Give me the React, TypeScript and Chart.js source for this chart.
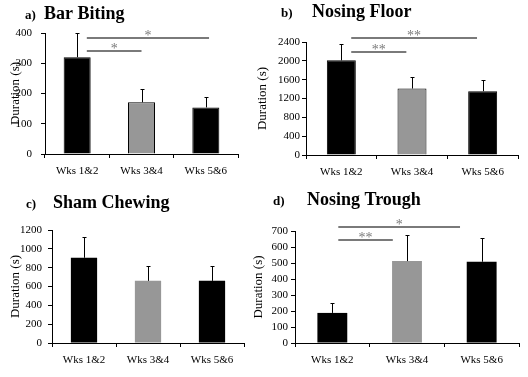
import React, { useEffect, useRef } from 'react';
import { Chart, registerables } from 'chart.js';
Chart.register(...registerables);

const categories = ['Wks 1&2', 'Wks 3&4', 'Wks 5&6'];

const barBiting = [320, 171, 154];
const barBitingErr = [80, 43, 36];
const barBitingTicks = { max: 400, step: 100 };
const barBitingSig = [
  { from: 0.15, to: 2.05, y: 383, label: '*' },
  { from: 0.15, to: 1.0, y: 340, label: '*' },
];

const nosingFloor = [2010, 1412, 1355];
const nosingFloorErr = [355, 235, 235];
const nosingFloorTicks = { max: 2400, step: 400 };
const nosingFloorSig = [
  { from: 0.14, to: 1.92, y: 2485, label: '**' },
  { from: 0.14, to: 0.92, y: 2188, label: '**' },
];

const shamChewing = [905, 660, 660];
const shamChewingErr = [220, 158, 158];
const shamChewingTicks = { max: 1200, step: 200 };
const shamChewingSig: { from: number; to: number; y: number; label: string }[] = [];

const nosingTrough = [188, 512, 508];
const nosingTroughErr = [62, 160, 150];
const nosingTroughTicks = { max: 700, step: 100 };
const nosingTroughSig = [
  { from: 0.08, to: 1.71, y: 725, label: '*' },
  { from: 0.08, to: 0.81, y: 644, label: '**' },
];

const barColors = ['#000000', '#979797', '#000000'];
const FONT = '"Liberation Serif", "Times New Roman", serif';
const W = 528;
const H = 377;

type Panel = {
  letter: string;
  title: string;
  values: number[];
  errors: number[];
  ticks: { max: number; step: number };
  sig: { from: number; to: number; y: number; label: string }[];
  area: { l: number; t: number; r: number; b: number };
  yTitleX: number;
  tickPad: number;
  barPct: number;
  border: number;
  letterX: number;
  titleX: number;
  titleY: number;
};

const panels: Panel[] = [
  {
    letter: 'a)', title: 'Bar Biting', values: barBiting, errors: barBitingErr, ticks: barBitingTicks, sig: barBitingSig,
    area: { l: 45, t: 33, r: 238, b: 154 }, yTitleX: 15, tickPad: 9, barPct: 0.42, border: 1,
    letterX: 25, titleX: 44, titleY: 19,
  },
  {
    letter: 'b)', title: 'Nosing Floor', values: nosingFloor, errors: nosingFloorErr, ticks: nosingFloorTicks, sig: nosingFloorSig,
    area: { l: 306, t: 42, r: 518, b: 155 }, yTitleX: 262, tickPad: 2, barPct: 0.41, border: 1,
    letterX: 281, titleX: 312, titleY: 17,
  },
  {
    letter: 'c)', title: 'Sham Chewing', values: shamChewing, errors: shamChewingErr, ticks: shamChewingTicks, sig: shamChewingSig,
    area: { l: 52, t: 230, r: 244, b: 343 }, yTitleX: 15, tickPad: 6, barPct: 0.41, border: 0,
    letterX: 26, titleX: 53, titleY: 208,
  },
  {
    letter: 'd)', title: 'Nosing Trough', values: nosingTrough, errors: nosingTroughErr, ticks: nosingTroughTicks, sig: nosingTroughSig,
    area: { l: 295, t: 231, r: 519, b: 343 }, yTitleX: 258, tickPad: 3, barPct: 0.40, border: 0,
    letterX: 273, titleX: 307, titleY: 205,
  },
];

function makeOverlay(p: Panel) {
  return {
    id: 'overlay',
    afterDatasetsDraw(chart: any) {
      const ctx = chart.ctx as CanvasRenderingContext2D;
      const xs = chart.scales.x;
      const ys = chart.scales.y;
      const meta = chart.getDatasetMeta(0);
      ctx.save();
      // error bars
      ctx.strokeStyle = '#000';
      ctx.lineWidth = 1;
      p.errors.forEach((e, i) => {
        const bar = meta.data[i];
        const v = p.values[i];
        const px = Math.round(bar.x) + 0.5;
        const y0 = ys.getPixelForValue(v);
        const y1 = Math.round(ys.getPixelForValue(v + e)) + 0.5;
        ctx.beginPath();
        ctx.moveTo(px, y0);
        ctx.lineTo(px, y1);
        ctx.moveTo(px - 2, y1);
        ctx.lineTo(px + 2, y1);
        ctx.stroke();
      });
      // significance lines
      p.sig.forEach((s) => {
        const x0 = xs.getPixelForValue(s.from);
        const x1 = xs.getPixelForValue(s.to);
        const yy = Math.round(ys.getPixelForValue(s.y));
        ctx.strokeStyle = '#7a7a7a';
        ctx.lineWidth = 2;
        ctx.beginPath();
        ctx.moveTo(x0, yy);
        ctx.lineTo(x1, yy);
        ctx.stroke();
        ctx.fillStyle = '#7a7a7a';
        ctx.font = `14px ${FONT}`;
        ctx.textAlign = 'center';
        ctx.textBaseline = 'alphabetic';
        ctx.fillText(s.label, (x0 + x1) / 2, yy + 2);
      });
      // panel title
      ctx.fillStyle = '#000';
      ctx.textAlign = 'left';
      ctx.textBaseline = 'alphabetic';
      ctx.font = `bold 13px ${FONT}`;
      ctx.fillText(p.letter, p.letterX, p.titleY);
      ctx.font = `bold 18px ${FONT}`;
      ctx.fillText(p.title, p.titleX, p.titleY);
      ctx.restore();
    },
  };
}

function PanelChart({ p }: { p: Panel }) {
  const ref = useRef<HTMLCanvasElement>(null);
  useEffect(() => {
    const canvas = ref.current!;
    const xH = 30;
    const boxLeft = p.yTitleX - 7;
    const chart = new Chart(canvas, {
      type: 'bar',
      data: {
        labels: categories,
        datasets: [
          {
            data: p.values,
            backgroundColor: barColors,
            borderColor: '#000',
            borderWidth: p.border,
            barPercentage: p.barPct,
            categoryPercentage: 1,
          },
        ],
      },
      options: {
        responsive: false,
        animation: false,
        devicePixelRatio: 1,
        layout: {
          padding: { left: boxLeft, top: p.area.t, right: W - p.area.r, bottom: H - p.area.b - xH },
        },
        plugins: { legend: { display: false }, tooltip: { enabled: false }, title: { display: false } },
        scales: {
          x: {
            grid: { display: true, drawOnChartArea: false, drawTicks: true, tickLength: 4, color: '#000', offset: true },
            border: { display: true, color: '#000', width: 1 },
            ticks: { font: { family: FONT, size: 11 }, color: '#000', padding: 7, maxRotation: 0, autoSkip: false },
            afterFit: (s: any) => { s.height = xH; },
          },
          y: {
            min: 0,
            max: p.ticks.max,
            ticks: {
              stepSize: p.ticks.step,
              autoSkip: false,
              font: { family: FONT, size: 11 },
              color: '#000',
              padding: p.tickPad,
              callback: (v: any) => String(v),
            },
            grid: { drawOnChartArea: false, drawTicks: true, tickLength: 4, color: '#000' },
            border: { display: true, color: '#000', width: 1 },
            title: { display: true, text: 'Duration (s)', font: { family: FONT, size: 13 }, color: '#000', padding: 0 },
            afterFit: (s: any) => { s.width = p.area.l - boxLeft; },
          },
        },
      } as any,
      plugins: [makeOverlay(p)],
    });
    return () => chart.destroy();
  }, [p]);
  return (
    <canvas
      ref={ref}
      width={W}
      height={H}
      style={{ position: 'absolute', left: 0, top: 0, width: W, height: H }}
    />
  );
}

export default function App() {
  return (
    <div style={{ position: 'fixed', left: 0, top: 0, width: W, height: H, background: '#fff' }}>
      {panels.map((p) => (
        <PanelChart key={p.letter} p={p} />
      ))}
    </div>
  );
}
